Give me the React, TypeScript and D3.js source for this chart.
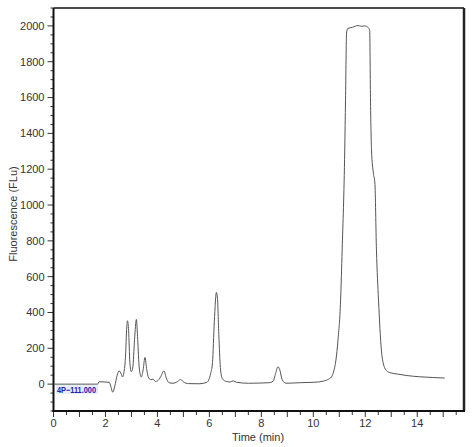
// Chromatogram: fluorescence trace vs time
import React, { useEffect, useRef } from 'react';
import * as d3 from 'd3';

// retention time (min)
const times = [
  0.0, 1.7, 1.75, 2.15, 2.2, 2.28, 2.36, 2.45, 2.53, 2.61, 2.66, 2.71, 2.77, 2.82, 2.85, 2.89,
  2.94, 2.99, 3.05, 3.12, 3.19, 3.24, 3.3, 3.38, 3.45, 3.52, 3.59, 3.66, 3.75, 3.83, 3.92, 4.0,
  4.12, 4.25, 4.35, 4.45, 4.6, 4.75, 4.89, 5.0, 5.2, 5.6, 5.9, 6.05, 6.12, 6.19, 6.27, 6.31,
  6.37, 6.43, 6.5, 6.65, 6.8, 6.92, 7.05, 7.5, 8.3, 8.45, 8.55, 8.64, 8.71, 8.8, 8.95, 9.5,
  10.0, 10.4, 10.55, 10.7, 10.8, 10.87, 10.95, 11.05, 11.11, 11.21, 11.24, 11.28, 11.32, 11.5,
  11.72, 11.85, 11.98, 12.12, 12.17, 12.2, 12.24, 12.31, 12.37, 12.43, 12.51, 12.62, 12.71,
  12.82, 12.95, 13.25, 13.6, 14.1, 14.6, 15.06,
];

// fluorescence (FLu)
const signal = [
  0, 0, 13, 10, -10, -45, -10, 50, 74, 55, 40, 65, 150, 320, 354, 300,
  120, 70, 90, 250, 361, 250, 90, 40, 80, 149, 80, 35, 25, 28, 15, 18,
  40, 74, 30, 8, 5, 12, 26, 12, 3, 2, 10, 60, 120, 350, 512, 480,
  250, 80, 30, 15, 12, 18, 10, 5, 8, 15, 60, 97, 80, 25, 5, 8,
  10, 17, 25, 40, 80, 134, 246, 469, 749, 1307, 1587, 1960, 1985, 1992,
  2002, 1998, 2000, 1990, 1975, 1600, 1307, 1180, 1123, 749, 469, 190, 106,
  75, 64, 56, 48, 41, 37, 34,
];

const xTicks = [0, 2, 4, 6, 8, 10, 12, 14];
const yTicks = [0, 200, 400, 600, 800, 1000, 1200, 1400, 1600, 1800, 2000];

const W = 474;
const H = 447;
const font = '"Liberation Sans", Arial, sans-serif';

const App: React.FC = () => {
  const svgRef = useRef<SVGSVGElement>(null);

  useEffect(() => {
    if (!svgRef.current) return;
    const svg = d3.select(svgRef.current);
    svg.selectAll('*').remove();

    const left = 53.5, right = 464, top = 8, bottom = 411;

    const x = d3.scaleLinear().domain([0, 15.8]).range([left, right]);
    const y = d3.scaleLinear().domain([-150, 2100]).range([bottom, top]);

    // рамка
    svg.append('line').attr('x1', left).attr('x2', right).attr('y1', top).attr('y2', top)
      .attr('stroke', '#111').attr('stroke-width', 1.5);
    svg.append('line').attr('x1', right).attr('x2', right).attr('y1', top).attr('y2', bottom)
      .attr('stroke', '#222').attr('stroke-width', 2.5);

    // ось Y
    const yAxis = svg.append('g').attr('transform', `translate(${left},0)`);
    yAxis.selectAll('line.minor')
      .data(d3.range(-150, 2101, 50).filter((v) => v % 200 !== 0))
      .enter().append('line')
      .attr('x1', -3).attr('x2', 0)
      .attr('y1', (d) => y(d)).attr('y2', (d) => y(d))
      .attr('stroke', '#333').attr('stroke-width', 1);
    yAxis.selectAll('line.major')
      .data(yTicks)
      .enter().append('line')
      .attr('x1', -6).attr('x2', 0)
      .attr('y1', (d) => y(d)).attr('y2', (d) => y(d))
      .attr('stroke', '#333').attr('stroke-width', 1);
    yAxis.selectAll('text')
      .data(yTicks)
      .enter().append('text')
      .attr('x', -9).attr('y', (d) => y(d)).attr('dy', '0.35em')
      .attr('text-anchor', 'end')
      .attr('font-family', font).attr('font-size', 11).attr('fill', '#333')
      .text((d) => String(d));
    yAxis.append('line').attr('x1', 0).attr('x2', 0).attr('y1', top).attr('y2', bottom + 0.5)
      .attr('stroke', '#111').attr('stroke-width', 2);

    // ось X
    const xAxis = svg.append('g').attr('transform', `translate(0,${bottom})`);
    xAxis.selectAll('line.minor')
      .data(d3.range(0.5, 15.6, 1))
      .enter().append('line')
      .attr('x1', (d) => x(d)).attr('x2', (d) => x(d))
      .attr('y1', 0).attr('y2', 4)
      .attr('stroke', '#333').attr('stroke-width', 1);
    xAxis.selectAll('line.major')
      .data(d3.range(0, 15.1, 1))
      .enter().append('line')
      .attr('x1', (d) => x(d)).attr('x2', (d) => x(d))
      .attr('y1', 0).attr('y2', 6)
      .attr('stroke', '#333').attr('stroke-width', 1);
    xAxis.selectAll('text')
      .data(xTicks)
      .enter().append('text')
      .attr('x', (d) => x(d)).attr('y', 16)
      .attr('text-anchor', 'middle')
      .attr('font-family', font).attr('font-size', 11).attr('fill', '#333')
      .text((d) => String(d));
    xAxis.append('line').attr('x1', left - 1).attr('x2', right + 1).attr('y1', 0).attr('y2', 0)
      .attr('stroke', '#111').attr('stroke-width', 2);

    // подписи осей
    svg.append('text')
      .attr('x', 258).attr('y', 441)
      .attr('text-anchor', 'middle')
      .attr('font-family', font).attr('font-size', 11).attr('fill', '#333')
      .text('Time (min)');
    svg.append('text')
      .attr('transform', `translate(17,214) rotate(-90)`)
      .attr('text-anchor', 'middle')
      .attr('font-family', font).attr('font-size', 11).attr('fill', '#333')
      .text('Fluorescence (FLu)');

    // метка события
    svg.append('rect')
      .attr('x', 56).attr('y', 385).attr('width', 42).attr('height', 9)
      .attr('fill', '#e4e9f7').attr('opacity', 0.8);
    svg.append('text')
      .attr('x', 57).attr('y', 392.5)
      .attr('font-family', font).attr('font-size', 9).attr('font-weight', 'bold')
      .attr('fill', '#2323a8')
      .attr('textLength', 39).attr('lengthAdjust', 'spacingAndGlyphs')
      .text('4P\u2212111.000');

    // трасса
    const data = times.map((t, i) => ({ t, v: signal[i] }));
    const line = d3.line<typeof data[0]>()
      .x((d) => x(d.t))
      .y((d) => y(d.v))
      .curve(d3.curveMonotoneX);
    svg.append('path')
      .datum(data)
      .attr('fill', 'none')
      .attr('stroke', '#555')
      .attr('stroke-width', 1)
      .attr('d', line);
  }, []);

  return (
    <svg
      ref={svgRef}
      width={W}
      height={H}
      style={{ position: 'absolute', left: 0, top: 0, background: '#fff' }}
    />
  );
};

export default App;
